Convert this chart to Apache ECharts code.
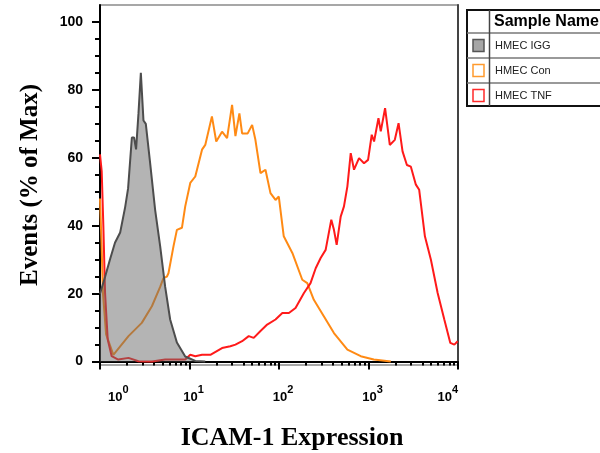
<!DOCTYPE html>
<html><head><meta charset="utf-8">
<script src="https://cdn.jsdelivr.net/npm/echarts@6/dist/echarts.min.js"></script>
<style>html,body{margin:0;padding:0;background:#fff}#c{width:600px;height:453px}</style>
</head><body><div id="c"></div>
<script>
// ---- data ----
const seriesNames = ['HMEC IGG', 'HMEC Con', 'HMEC TNF'];
const legendHeader = 'Sample Name';
const xTitle = 'ICAM-1 Expression';
const yTitle = 'Events (% of Max)';
const xTickValues = [1, 10, 100, 1000, 10000];
const xTickExponents = ['0', '1', '2', '3', '4'];
const yTickValues = [0, 20, 40, 60, 80, 100];

const iggData = [
  [1, 20], [1.14, 25], [1.29, 30], [1.47, 35], [1.68, 38], [1.91, 45.5], [2.06, 51],
  [2.27, 66], [2.40, 66], [2.53, 62.5], [2.69, 73], [2.86, 85], [3.06, 71], [3.25, 70],
  [3.63, 58.5], [4.13, 44.7], [4.70, 34], [5.35, 22], [6.08, 12.4], [7.23, 5.6],
  [8.96, 1.5], [11.6, 0.2], [15.0, 0]
];
const conData = [
  [1, 48], [1.04, 35], [1.08, 20], [1.17, 8], [1.41, 2], [2.08, 7.5], [2.93, 11.4],
  [3.80, 16.3], [4.70, 22], [5.12, 24.6], [5.58, 25], [5.82, 26], [6.63, 34], [7.23, 38.8],
  [8.23, 39.4], [8.96, 45.7], [10.2, 52.6], [11.6, 54.5], [13.8, 62.4], [15.0, 63.8],
  [17.8, 72.2], [19.9, 64.8], [23.1, 67.7], [26.3, 65.8], [29.9, 75.6], [32.6, 66.4],
  [36.1, 73.1], [38.7, 67.2], [44.7, 67.2], [50.1, 69.7], [54.5, 65.3], [62.1, 55.5],
  [70.6, 56.5], [80.3, 49.6], [91.4, 47.6], [99.5, 48.6], [113, 36.9], [141, 32],
  [182, 24.1], [207, 23.1], [245, 18.2], [318, 13.3], [411, 8.4], [581, 3.5],
  [819, 1.6], [1145, 0.6], [1775, 0]
];
const tnfData = [
  [1, 61], [1.045, 56], [1.09, 40], [1.14, 20], [1.22, 6.5], [1.35, 1.6], [1.60, 0.6],
  [2.08, 1.1], [2.69, 0.1], [3.80, 0], [5.35, 0.6], [6.92, 0.6], [8.96, 0.6], [10.2, 2],
  [11.6, 1.6], [13.8, 2], [17.1, 2], [23.1, 4], [28.6, 4.5], [32.6, 5], [38.7, 6],
  [45.9, 7.5], [52.2, 7], [62.1, 9], [73.8, 10.9], [91.4, 12.4], [109, 14.3], [129, 14.3],
  [153, 15.8], [190, 20.2], [225, 23.1], [257, 27.5], [292, 30.5], [332, 32.9],
  [384, 41.8], [411, 38.8], [441, 34.4], [489, 42.7], [532, 45.7], [581, 51.6],
  [633, 61.4], [689, 56.5], [784, 59.9], [891, 58.4], [989, 59.4], [1087, 66.8],
  [1154, 64.8], [1292, 71.7], [1371, 67.8], [1532, 74.6], [1730, 63.8], [1968, 65.3],
  [2167, 70.2], [2401, 61.9], [2685, 57.9], [2974, 57.4], [3383, 52.1], [3684, 50.6],
  [4268, 36.9], [4981, 30], [5924, 20.2], [7031, 12.4], [8204, 5.5], [9098, 5], [9924, 6]
];

// minor tick positions (log decades 2..9) and y minor ticks every 5
const xMinorTicks = [];
for (let d = 1; d < 10000; d *= 10) for (let k = 2; k <= 9; k++) xMinorTicks.push(k * d);
const yMinorTicks = [];
for (let v = 0; v <= 100; v += 5) yMinorTicks.push(v);

const chart = echarts.init(document.getElementById('c'), null, {renderer: 'canvas'});

const labelFont = '"Liberation Sans", Arial, sans-serif';
const serifFont = '"Liberation Serif", "Times New Roman", serif';

const option = {
  animation: false,
  backgroundColor: '#fff',
  grid: {left: 100, right: 142, top: 5, bottom: 88, show: true, borderColor: '#8a8a8a', borderWidth: 1.5,
         containLabel: false, outerBoundsMode: 'none'},
  xAxis: [
    {
      type: 'log', logBase: 10, min: 1, max: 10000, position: 'bottom',
      axisLine: {show: true, lineStyle: {color: '#000', width: 2}},
      axisTick: {show: true, length: 8, customValues: xTickValues, lineStyle: {color: '#000', width: 2}},
      axisLabel: {
        customValues: xTickValues,
        margin: 19,
        alignMinLabel: 'left', alignMaxLabel: 'right',
        padding: [0, 0, 0, 8],
        formatter: function (v) {
          const i = xTickValues.indexOf(v);
          const e = i >= 0 ? xTickExponents[i] : String(Math.round(Math.log10(v)));
          return '{b|10}{s|' + e + '}';
        },
        rich: {
          b: {fontFamily: labelFont, fontWeight: 'bold', fontSize: 13, color: '#000', lineHeight: 20, verticalAlign: 'bottom'},
          s: {fontFamily: labelFont, fontWeight: 'bold', fontSize: 11, color: '#000', lineHeight: 20, verticalAlign: 'top'}
        }
      },
      splitLine: {show: false},
      name: xTitle, nameLocation: 'middle', nameGap: 60,
      nameTextStyle: {fontFamily: serifFont, fontWeight: 'bold', fontSize: 26, color: '#000', padding: [0, 0, 0, 26]}
    },
    {
      type: 'log', logBase: 10, min: 1, max: 10000, position: 'bottom',
      axisLine: {show: false},
      axisTick: {show: true, length: 4, customValues: xMinorTicks, lineStyle: {color: '#000', width: 2}},
      axisLabel: {show: false},
      splitLine: {show: false}
    }
  ],
  yAxis: [
    {
      type: 'value', min: -1, max: 105, position: 'left',
      axisLine: {show: true, lineStyle: {color: '#000', width: 2}},
      axisTick: {show: true, length: 8, customValues: yTickValues, lineStyle: {color: '#000', width: 2}},
      axisLabel: {customValues: yTickValues, margin: 17, fontFamily: labelFont, fontWeight: 'bold', fontSize: 14, color: '#000'},
      splitLine: {show: false},
      name: yTitle, nameLocation: 'middle', nameRotate: 90, nameGap: 57,
      nameTextStyle: {fontFamily: serifFont, fontWeight: 'bold', fontSize: 25, color: '#000'}
    },
    {
      type: 'value', min: -1, max: 105, position: 'left',
      axisLine: {show: false},
      axisTick: {show: true, length: 5, customValues: yMinorTicks, lineStyle: {color: '#000', width: 2}},
      axisLabel: {show: false},
      splitLine: {show: false}
    },
    {
      type: 'value', min: -1, max: 105, position: 'right',
      axisLine: {show: true, lineStyle: {color: '#444', width: 2}},
      axisTick: {show: false}, axisLabel: {show: false}, splitLine: {show: false}
    }
  ],
  series: [
    {
      name: seriesNames[1], type: 'line', data: conData, showSymbol: false, symbol: 'none',
      lineStyle: {color: '#ff8a14', width: 2}, z: 2
    },
    {
      name: seriesNames[2], type: 'line', data: tnfData, showSymbol: false, symbol: 'none',
      lineStyle: {color: '#ff1a1a', width: 2}, z: 3
    },
    {
      name: seriesNames[0], type: 'line', data: iggData, showSymbol: false, symbol: 'none',
      lineStyle: {color: '#4d4d4d', width: 2},
      areaStyle: {color: 'rgba(105,105,105,0.5)', opacity: 1, origin: 0}, z: 4
    }
  ],
  graphic: [
    {
      type: 'group', x: 467, y: 10,
      children: [
        {type: 'rect', shape: {x: 0, y: 0, width: 150, height: 96}, style: {fill: '#fff', stroke: '#111', lineWidth: 2}},
        {type: 'line', shape: {x1: 0, y1: 23, x2: 150, y2: 23}, style: {stroke: '#777', lineWidth: 1.5}},
        {type: 'line', shape: {x1: 0, y1: 48, x2: 150, y2: 48}, style: {stroke: '#777', lineWidth: 1.5}},
        {type: 'line', shape: {x1: 0, y1: 73, x2: 150, y2: 73}, style: {stroke: '#777', lineWidth: 1.5}},
        {type: 'line', shape: {x1: 22.5, y1: 0, x2: 22.5, y2: 96}, style: {stroke: '#444', lineWidth: 1.5}},
        {type: 'text', x: 27, y: 12, style: {text: legendHeader, font: 'bold 16px ' + labelFont, fill: '#000', verticalAlign: 'middle'}},
        {type: 'rect', shape: {x: 6, y: 29.5, width: 11, height: 12}, style: {fill: '#a6a6a6', stroke: '#555', lineWidth: 1.5}},
        {type: 'text', x: 28, y: 36, style: {text: seriesNames[0], font: '11px ' + labelFont, fill: '#222', verticalAlign: 'middle'}},
        {type: 'rect', shape: {x: 6, y: 54.5, width: 11, height: 12}, style: {fill: '#fff', stroke: '#ff9a2e', lineWidth: 1.5}},
        {type: 'text', x: 28, y: 61, style: {text: seriesNames[1], font: '11px ' + labelFont, fill: '#222', verticalAlign: 'middle'}},
        {type: 'rect', shape: {x: 6, y: 79.5, width: 11, height: 12}, style: {fill: '#fff', stroke: '#ff2a2a', lineWidth: 1.5}},
        {type: 'text', x: 28, y: 86, style: {text: seriesNames[2], font: '11px ' + labelFont, fill: '#222', verticalAlign: 'middle'}}
      ]
    }
  ]
};
chart.setOption(option);
</script>
</body></html>
